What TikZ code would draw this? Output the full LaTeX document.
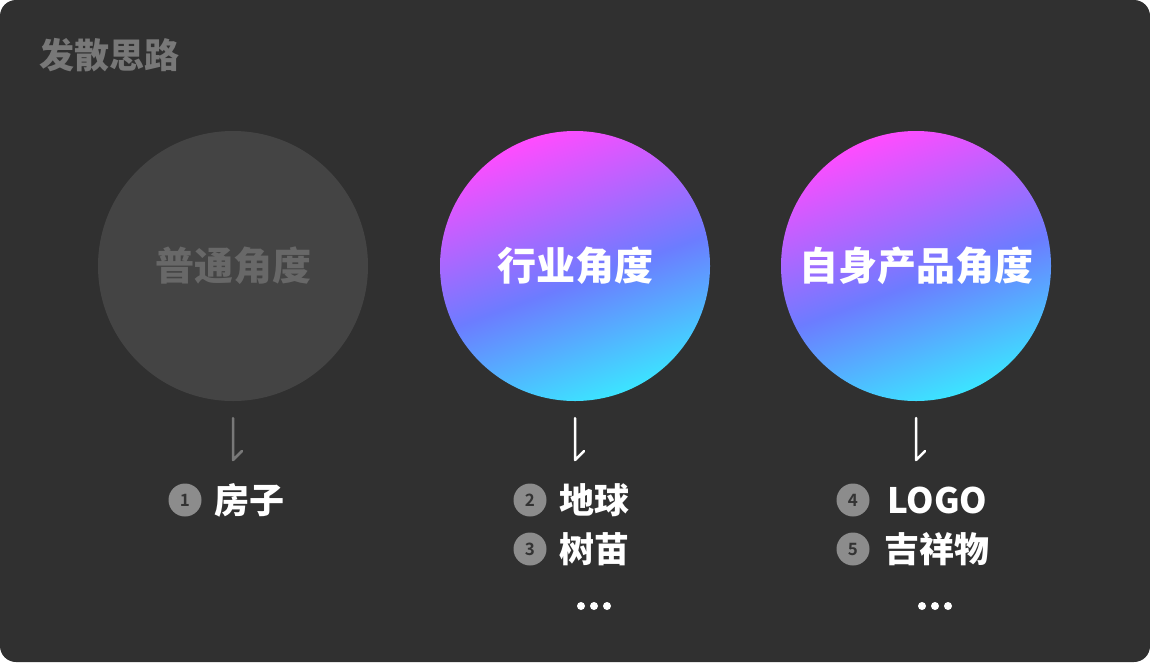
\documentclass[tikz,border=0pt]{standalone}
\usepackage{fontspec}
\setmainfont{Noto Sans CJK SC}[BoldFont={Noto Sans CJK SC Black}]
\newfontfamily\numfont{Noto Sans CJK SC Bold}
\definecolor{bgdark}{HTML}{303030}
\definecolor{titlegray}{HTML}{787878}
\definecolor{circgray}{HTML}{444444}
\definecolor{circtext}{HTML}{686868}
\definecolor{numgray}{HTML}{8C8C8C}
\definecolor{numtext}{HTML}{333333}
\definecolor{gmag}{HTML}{FF4CFF}
\definecolor{gmid}{HTML}{6C7CFF}
\definecolor{gcyan}{HTML}{3CE4FF}
\pgfdeclareverticalshading{circgrad}{100bp}{color(0bp)=(gcyan); color(25bp)=(gcyan); color(47bp)=(gmid); color(75bp)=(gmag); color(100bp)=(gmag)}
\tikzset{
  bigcirc/.style={circle, minimum size=270pt, inner sep=0pt},
  gradcirc/.style={bigcirc, shading=circgrad, shading angle=20},
  circlabel/.style={font=\bfseries\fontsize{39}{42}\selectfont, text=white},
  numdot/.style={circle, fill=numgray, minimum size=33pt, inner sep=0pt, text=numtext, font=\numfont\fontsize{17}{18}\selectfont},
  itemtext/.style={anchor=west, text=white, font=\bfseries\fontsize{35}{37}\selectfont, inner sep=0pt},
  harpoon/.style={line width=2.5pt, line cap=round, line join=round},
  dotmark/.style={circle, fill=white, minimum size=8pt, inner sep=0pt}
}
\begin{document}
\begin{tikzpicture}[x=1pt,y=-1pt]
\fill[white] (0,0) rectangle (1150,662);
\useasboundingbox (0,0) rectangle (1150,662);
\fill[bgdark, rounded corners=16pt] (0,0) rectangle (1150,662);
\node[anchor=west, text=titlegray, font=\bfseries\fontsize{35}{38}\selectfont, inner sep=0pt] (title) at (39,55) {发散思路};
% circles
\node[bigcirc, fill=circgray] (c1) at (233,266) {};
\node[circlabel, text=circtext] (l1) at (233,266) {普通角度};
\node[gradcirc] (c2) at (575,266) {};
\node[circlabel] (l2) at (575,266) {行业角度};
\node[gradcirc] (c3) at (916,266) {};
\node[circlabel] (l3) at (916,266) {自身产品角度};
% harpoons
\coordinate (a1s) at (233,418); \coordinate (a1e) at (233,460); \coordinate (a1b) at (242,451);
\coordinate (a2s) at (575,418); \coordinate (a2e) at (575,460); \coordinate (a2b) at (584,451);
\coordinate (a3s) at (916,418); \coordinate (a3e) at (916,460); \coordinate (a3b) at (925,451);
\draw[harpoon, titlegray] (a1s) -- (a1e) -- (a1b);
\draw[harpoon, white] (a2s) -- (a2e) -- (a2b);
\draw[harpoon, white] (a3s) -- (a3e) -- (a3b);
% items
\node[numdot] (n1) at (185,500) {1};
\node[itemtext] (t1) at (214,500) {房子};
\node[numdot] (n2) at (530,500) {2};
\node[itemtext] (t2) at (559,500) {地球};
\node[numdot] (n3) at (530,549) {3};
\node[itemtext] (t3) at (559,549) {树苗};
\node[dotmark] (d21) at (581,606) {};
\node[dotmark] (d22) at (594,606) {};
\node[dotmark] (d23) at (607,606) {};
\node[numdot] (n4) at (853,500) {4};
\node[itemtext] (t4) at (887,500) {LOGO};
\node[numdot] (n5) at (853,549) {5};
\node[itemtext] (t5) at (884,549) {吉祥物};
\node[dotmark] (d31) at (922,606) {};
\node[dotmark] (d32) at (935,606) {};
\node[dotmark] (d33) at (948,606) {};
\end{tikzpicture}
\end{document}
